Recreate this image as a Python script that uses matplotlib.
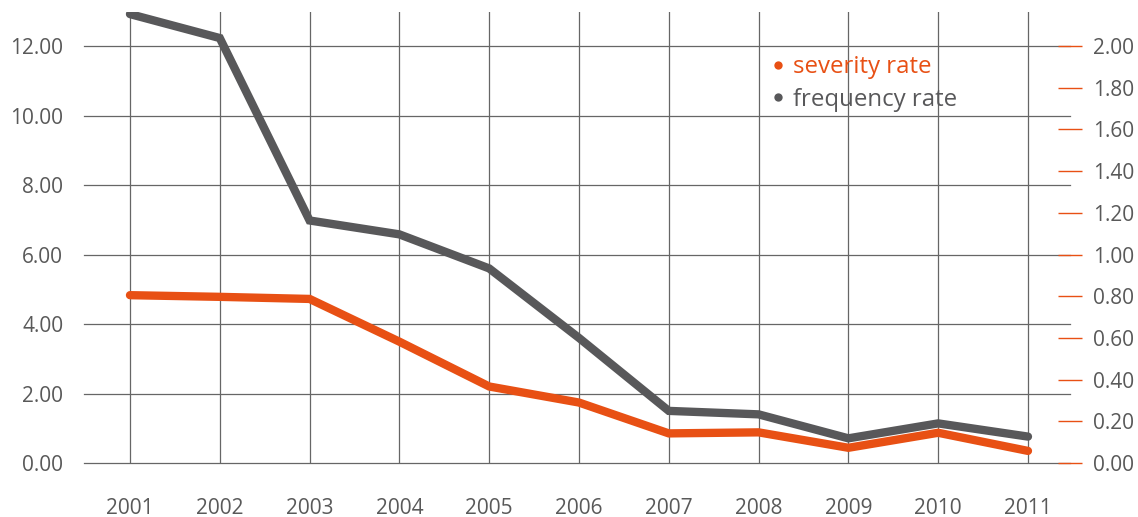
import matplotlib
matplotlib.use("Agg")
import matplotlib.pyplot as plt
from matplotlib.lines import Line2D

## DATA
years = [2001, 2002, 2003, 2004, 2005, 2006, 2007, 2008, 2009, 2010, 2011]
frequency_rate = [12.92, 12.23, 6.98, 6.58, 5.60, 3.60, 1.50, 1.40, 0.71, 1.14, 0.76]
severity_rate = [0.805, 0.797, 0.787, 0.582, 0.367, 0.290, 0.142, 0.147, 0.073, 0.145, 0.058]
left_ticks = [0, 2, 4, 6, 8, 10, 12]
right_ticks = [0.0, 0.2, 0.4, 0.6, 0.8, 1.0, 1.2, 1.4, 1.6, 1.8, 2.0]

# Colores
hex_gray = '#58585a'
hex_orange = '#e85014'
hex_grid = '#666666'
hex_text = '#595959'

plt.rcParams['font.family'] = ['Open Sans', 'DejaVu Sans']

fig = plt.figure(figsize=(11.38, 5.17), dpi=100)
ax = fig.add_axes([84 / 1138, 54 / 517, 986 / 1138, 451 / 517])
ax2 = ax.twinx()

ax.set_xlim(2000.488, 2011.468)
ax.set_ylim(0, 12.98)
ax2.set_ylim(0, 12.98 / 6)

# Rejilla
for y in left_ticks:
    ax.axhline(y, color=hex_grid, linewidth=0.9, zorder=1, clip_on=False)
for x in years:
    ax.axvline(x, color=hex_grid, linewidth=0.9, zorder=1)

for a in (ax, ax2):
    for s in a.spines.values():
        s.set_visible(False)

# Lineas
ax.plot(years, frequency_rate, color=hex_gray, linewidth=6,
        solid_capstyle='round', solid_joinstyle='miter', zorder=3)
ax2.plot(years, severity_rate, color=hex_orange, linewidth=6,
         solid_capstyle='round', solid_joinstyle='miter', zorder=3)

# Ejes
ax.set_xticks(years)
ax.set_xticklabels([str(y) for y in years])
ax.set_yticks(left_ticks)
ax.set_yticklabels([f"{v:.2f}" for v in left_ticks])
ax.tick_params(axis='both', length=0, labelsize=15, labelcolor=hex_text)
ax.tick_params(axis='y', pad=15)
ax.tick_params(axis='x', pad=25)

ax2.set_yticks(right_ticks)
ax2.set_yticklabels([f"{v:.2f}" for v in right_ticks])
ax2.tick_params(axis='y', direction='inout', length=17, width=1,
                color=hex_orange, labelsize=15, labelcolor=hex_text, pad=8)

# Leyenda
legend_elements = [
    Line2D([0], [0], marker='o', color='none', markerfacecolor=hex_orange,
           markeredgecolor='none', markersize=6, label='severity rate'),
    Line2D([0], [0], marker='o', color='none', markerfacecolor=hex_gray,
           markeredgecolor='none', markersize=6, label='frequency rate'),
]
leg = ax2.legend(handles=legend_elements, loc='upper left',
                 bbox_to_anchor=(771 / 1138, 1 - 55 / 517),
                 bbox_transform=fig.transFigure, frameon=False,
                 fontsize=17.3, handlelength=0.6, handletextpad=0.3,
                 labelspacing=0.37, borderpad=0, borderaxespad=0)
leg.get_texts()[0].set_color(hex_orange)
leg.get_texts()[1].set_color(hex_gray)

fig.patch.set_facecolor('white')
plt.savefig("out.png", dpi=100)
